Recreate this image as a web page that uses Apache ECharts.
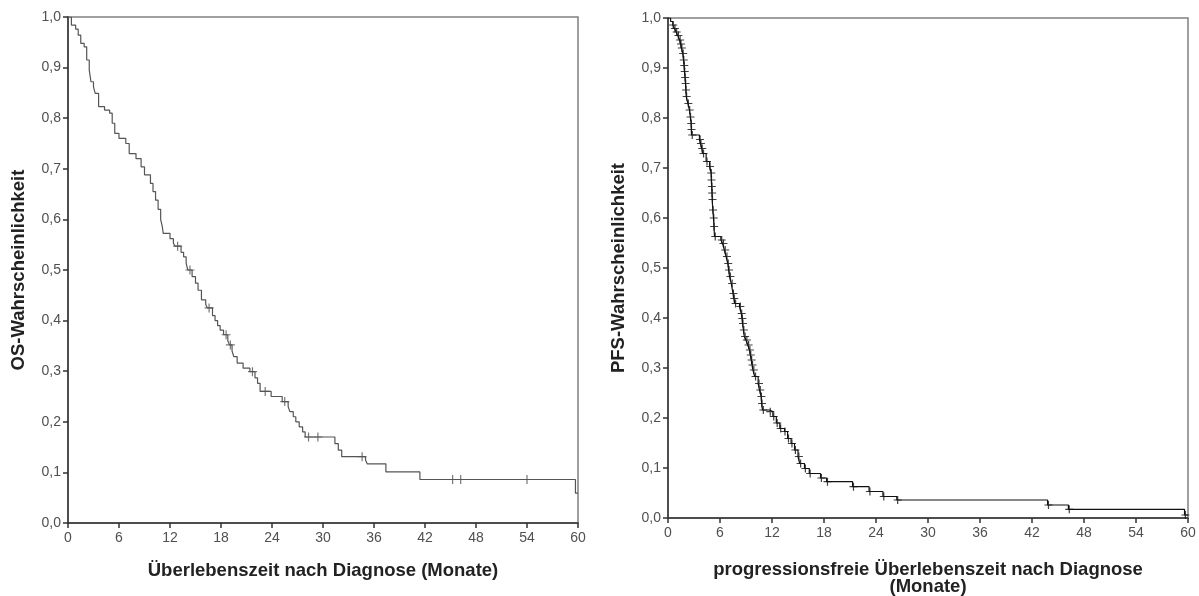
<!DOCTYPE html>
<html>
<head>
<meta charset="utf-8">
<script src="https://cdn.jsdelivr.net/npm/echarts@6/dist/echarts.min.js"></script>
<style>
html,body{margin:0;padding:0;background:#fff;}
#c{width:1199px;height:596px;}
</style>
</head>
<body>
<div id="c"></div>
<script>
// ---------- DATA ----------
const xTickLabels = ['0','6','12','18','24','30','36','42','48','54','60'];
const yTickLabels = ['0,0','0,1','0,2','0,3','0,4','0,5','0,6','0,7','0,8','0,9','1,0'];

// OS: step times (months) and survival after each step
const osTime = [0,0.4,0.9,1.2,1.5,1.9,2.2,2.5,2.7,3.0,3.2,3.6,4.3,4.9,5.2,5.5,6.0,6.8,7.2,8.0,8.6,9.0,9.7,10.0,10.3,10.6,10.9,11.1,11.2,12.0,12.4,12.6,13.3,13.6,13.9,14.1,14.6,15.0,15.3,15.7,16.2,16.4,17.0,17.3,17.6,17.9,18.3,18.8,19.0,19.3,19.5,19.9,20.6,21.4,22.0,22.3,22.6,23.9,25.2,25.9,26.1,26.5,26.8,27.2,27.6,27.9,31.4,31.8,32.2,35.0,35.2,37.4,41.4,59.7,60];
const osSurv = [1.0,0.984,0.976,0.964,0.948,0.941,0.915,0.895,0.872,0.862,0.849,0.823,0.816,0.81,0.79,0.77,0.76,0.75,0.73,0.72,0.704,0.688,0.671,0.655,0.638,0.62,0.60,0.585,0.5725,0.562,0.553,0.547,0.535,0.526,0.513,0.50,0.487,0.474,0.46,0.441,0.432,0.425,0.41,0.40,0.39,0.381,0.372,0.36,0.352,0.34,0.329,0.316,0.306,0.299,0.287,0.276,0.26,0.25,0.24,0.23,0.22,0.21,0.20,0.19,0.18,0.17,0.157,0.144,0.131,0.1245,0.117,0.101,0.086,0.059,0.059];
const osCensor = [12.9,14.35,16.6,18.6,19.1,21.7,23.2,25.5,28.3,29.4,34.6,45.25,46.2,54.0];

// PFS
const pfsTime = [0,0.3,0.55,0.75,0.94,1.13,1.33,1.45,1.55,1.7,1.79,1.85,1.9,1.96,2.02,2.06,2.1,2.3,2.48,2.58,2.67,2.7,2.72,3.63,3.75,3.9,4.0,4.4,4.8,4.98,5.0,5.05,5.08,5.1,5.17,5.25,5.3,5.37,6.1,6.3,6.5,6.7,6.9,7.0,7.1,7.3,7.5,7.6,7.7,8.25,8.45,8.55,8.6,8.7,8.8,9.0,9.2,9.4,9.5,9.6,9.7,9.8,10.0,10.4,10.56,10.75,10.8,10.9,11.7,12.1,12.5,12.9,13.45,13.8,14.2,14.6,15.0,15.2,15.75,16.3,17.6,18.3,21.3,23.2,24.8,26.4,43.8,46.2,59.6,60];
const pfsSurv = [1.0,0.993,0.986,0.979,0.972,0.965,0.956,0.948,0.94,0.929,0.916,0.905,0.893,0.881,0.869,0.856,0.843,0.829,0.816,0.802,0.789,0.777,0.766,0.757,0.749,0.739,0.729,0.713,0.703,0.69,0.676,0.663,0.65,0.637,0.616,0.60,0.583,0.563,0.556,0.549,0.536,0.523,0.509,0.496,0.483,0.469,0.449,0.439,0.429,0.423,0.409,0.399,0.389,0.376,0.363,0.356,0.346,0.336,0.326,0.316,0.306,0.296,0.283,0.269,0.256,0.243,0.229,0.216,0.2127,0.203,0.19,0.179,0.173,0.159,0.149,0.136,0.123,0.109,0.099,0.089,0.08,0.0727,0.0627,0.053,0.043,0.036,0.026,0.0174,0.006,0.006];
const pfsCensor = [0.6,0.8,1.0,1.2,1.4,1.5,1.6,1.75,1.82,1.88,1.93,1.98,2.04,2.08,2.15,2.35,2.5,2.6,2.68,2.71,2.8,3.7,3.8,3.95,4.1,4.5,4.85,4.99,5.02,5.06,5.09,5.13,5.2,5.28,5.33,5.45,6.2,6.4,6.6,6.8,6.95,7.05,7.2,7.4,7.55,7.65,7.8,8.35,8.5,8.58,8.65,8.75,8.9,9.1,9.3,9.45,9.55,9.65,9.75,9.9,10.1,10.5,10.65,10.78,10.85,11.0,11.8,12.2,12.6,13.0,13.5,13.9,14.3,14.7,15.1,15.3,15.85,16.4,17.7,18.4,21.4,23.3,24.9,26.5,43.9,46.3,59.7];

// ---------- BUILD ----------
function pairs(t, s){ return t.map((v,i)=>[v, s[i]]); }
function survAt(t, times, surv){
  let v = surv[0];
  for (let i=0;i<times.length;i++){ if (times[i] <= t) v = surv[i]; else break; }
  return v;
}
function censorPts(c, times, surv){ return c.map(t=>[t, survAt(t,times,surv)]); }

const plus = 'path://M5,0L5,10M0,5L10,5';
const labelFont = {fontFamily:'Liberation Sans, Arial, sans-serif', fontSize:14, color:'#505050'};
const nameFont = {fontFamily:'Liberation Sans, Arial, sans-serif', fontSize:18.5, fontWeight:'bold', color:'#222'};

function xAxis(gi, name, gap){
  return {
    type:'value', gridIndex:gi, min:0, max:60, interval:6,
    name:name, nameLocation:'middle', nameGap:gap, nameTextStyle:Object.assign({}, nameFont, {lineHeight:17}),
    axisLine:{show:true, onZero:false, lineStyle:{color:'#333', width:1.5}},
    axisTick:{show:true, inside:false, length:5, lineStyle:{color:'#333', width:1.5}},
    axisLabel:Object.assign({margin:8, formatter:(v)=>xTickLabels[Math.round(v/6)]}, labelFont),
    splitLine:{show:false}
  };
}
function yAxis(gi, name){
  return {
    type:'value', gridIndex:gi, min:0, max:1, interval:0.1,
    name:name, nameLocation:'middle', nameGap:40, nameTextStyle:nameFont,
    axisLine:{show:true, lineStyle:{color:'#333', width:1.5}},
    axisTick:{show:true, inside:false, length:5, lineStyle:{color:'#333', width:1.5}},
    axisLabel:Object.assign({margin:7, formatter:(v)=>yTickLabels[Math.round(v*10)]}, labelFont),
    splitLine:{show:false}
  };
}

const option = {
  animation:false,
  backgroundColor:'#fff',
  grid:[
    {left:68, top:17, width:510, height:506, show:true, borderColor:'#808080', borderWidth:1.5, backgroundColor:'transparent', containLabel:false, outerBoundsMode:'none'},
    {left:668, top:18, width:520, height:500, show:true, borderColor:'#808080', borderWidth:1.5, backgroundColor:'transparent', containLabel:false, outerBoundsMode:'none'}
  ],
  xAxis:[
    xAxis(0, 'Überlebenszeit nach Diagnose (Monate)', 39),
    xAxis(1, 'progressionsfreie Überlebenszeit nach Diagnose\n(Monate)', 43)
  ],
  yAxis:[
    yAxis(0, 'OS-Wahrscheinlichkeit'),
    yAxis(1, 'PFS-Wahrscheinlichkeit')
  ],
  series:[
    {type:'line', xAxisIndex:0, yAxisIndex:0, step:'end', data:pairs(osTime, osSurv), showSymbol:false,
      lineStyle:{color:'#555', width:1.2}, z:3},
    {type:'scatter', xAxisIndex:0, yAxisIndex:0, data:censorPts(osCensor, osTime, osSurv), symbol:plus, symbolSize:9,
      itemStyle:{color:'rgba(0,0,0,0)', borderColor:'#555', borderWidth:1.2}, z:4},
    {type:'line', xAxisIndex:1, yAxisIndex:1, step:'end', data:pairs(pfsTime, pfsSurv), showSymbol:false,
      lineStyle:{color:'#111', width:1.2}, z:3},
    {type:'scatter', xAxisIndex:1, yAxisIndex:1, data:censorPts(pfsCensor, pfsTime, pfsSurv), symbol:plus, symbolSize:8,
      itemStyle:{color:'rgba(0,0,0,0)', borderColor:'#111', borderWidth:1.2}, z:4}
  ]
};
const chart = echarts.init(document.getElementById('c'), null, {renderer:'canvas'});
chart.setOption(option);
</script>
</body>
</html>
